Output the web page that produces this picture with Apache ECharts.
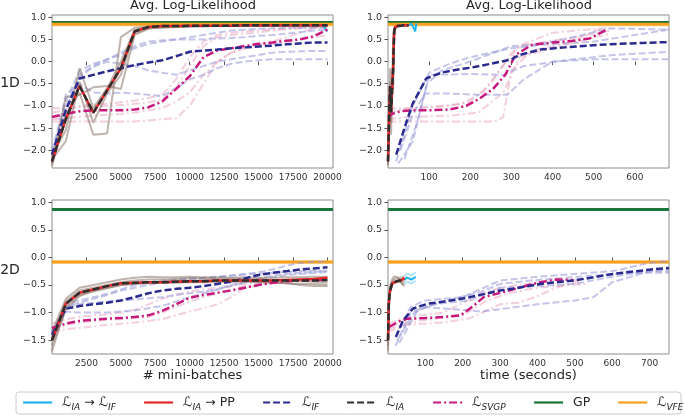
<!DOCTYPE html>
<html>
<head>
<meta charset="utf-8">
<script src="https://cdn.jsdelivr.net/npm/echarts@6/dist/echarts.min.js"></script>
<style>
  html, body { margin: 0; padding: 0; background: #fff; }
  #chart { width: 685px; height: 416px; }
</style>
</head>
<body>
<div id="chart"></div>
<script>
// ---- axes ----
const batches = [0, 1000, 2000, 3000, 4000, 5000, 6000, 7000, 8000, 9000, 10000, 11000, 12000, 13000, 14000, 15000, 16000, 17000, 18000, 19000, 20000];
const batchTicks = [2500, 5000, 7500, 10000, 12500, 15000, 17500, 20000];
const timeTicks1D = [100, 200, 300, 400, 500, 600];
const timeTicks2D = [100, 200, 300, 400, 500, 600, 700];
const yTicks1D = [-2.0, -1.5, -1.0, -0.5, 0.0, 0.5, 1.0];
const yTicks2D = [-1.5, -1.0, -0.5, 0.0, 0.5, 1.0];
const batchSpan = [0, 20400];
const timeSpan1D = [0, 683];
const timeSpan2D = [0, 752];

// ---- reference levels (GP, VFE) ----
const gpLevel = [0.88, 0.87];          // 1D, 2D
const gpBand2D = [0.85, 0.89];
const vfeLevel = [0.84, -0.085];       // 1D, 2D
const vfeBand1D = [0.79, 0.88];
const vfeBand2D = [-0.12, -0.05];

// ---- 1D, mini-batches ----
const iaBatch1D = [-2.25, -1.3, -0.55, -1.15, -0.65, -0.15, 0.68, 0.78, 0.8, 0.8, 0.81, 0.81, 0.81, 0.81, 0.82, 0.82, 0.82, 0.82, 0.82, 0.82, 0.82];
const iaPpBatch1D = [-2.25, -1.3, -0.55, -1.15, -0.65, -0.15, 0.68, 0.78, 0.8, 0.8, 0.81, 0.81, 0.81, 0.81, 0.82, 0.82, 0.82, 0.82, 0.82, 0.82, 0.82];
const iaRunsBatch1D = [
  [-2.1, -1.55, -0.15, -1.05, -0.6, 0.0, 0.72, 0.78, 0.79, 0.8, 0.8, 0.8, 0.81, 0.81, 0.81, 0.81, 0.81, 0.82, 0.82, 0.82, 0.82],
  [-2.35, -1.2, -0.7, -1.65, -1.62, 0.55, 0.76, 0.79, 0.8, 0.8, 0.8, 0.81, 0.81, 0.81, 0.81, 0.81, 0.82, 0.82, 0.82, 0.82, 0.82],
  [-2.3, -0.8, -0.75, -0.58, -0.55, -0.62, 0.6, 0.74, 0.77, 0.78, 0.79, 0.79, 0.8, 0.8, 0.8, 0.8, 0.81, 0.81, 0.81, 0.81, 0.81],
  [-2.2, -1.8, -0.45, -1.38, -0.72, -0.3, 0.64, 0.75, 0.77, 0.78, 0.79, 0.8, 0.8, 0.8, 0.8, 0.81, 0.81, 0.81, 0.81, 0.81, 0.81]
];
const ifBatch1D = [-2.1, -1.1, -0.38, -0.3, -0.22, -0.15, -0.08, -0.02, 0.03, 0.12, 0.22, 0.25, 0.27, 0.3, 0.32, 0.34, 0.36, 0.39, 0.41, 0.43, 0.43];
const ifRunsBatch1D = [
  [-2.0, -0.9, -0.2, -0.05, 0.05, 0.15, 0.3, 0.4, 0.45, 0.5, 0.55, 0.6, 0.65, 0.7, 0.72, 0.74, 0.75, 0.76, 0.76, 0.76, 0.76],
  [-2.2, -0.75, -0.5, -0.7, -0.72, -0.7, -0.72, -0.75, -0.78, -0.6, -0.4, -0.3, -0.15, -0.05, 0.0, 0.03, 0.05, 0.05, 0.05, 0.05, 0.05],
  [-2.1, -1.0, -0.35, -0.12, 0.0, -0.05, -0.1, -0.2, -0.25, -0.3, -0.2, -0.1, 0.0, 0.05, 0.1, 0.15, 0.2, 0.22, 0.23, 0.24, 0.24],
  [-2.3, -1.1, -0.3, -0.1, 0.05, 0.2, 0.35, 0.45, 0.48, 0.5, 0.5, 0.5, 0.52, 0.53, 0.55, 0.58, 0.6, 0.63, 0.66, 0.7, 0.72]
];
const svgpBatch1D = [-1.25, -1.18, -1.12, -1.1, -1.1, -1.1, -1.08, -1.03, -0.9, -0.62, -0.33, 0.1, 0.25, 0.3, 0.35, 0.4, 0.43, 0.47, 0.5, 0.57, 0.72];
const svgpRunsBatch1D = [
  [-1.15, -1.1, -1.0, -0.98, -0.95, -0.92, -0.88, -0.82, -0.75, -0.4, 0.1, 0.45, 0.6, 0.65, 0.68, 0.7, 0.72, 0.73, 0.75, 0.77, 0.78],
  [-1.3, -1.28, -1.25, -1.22, -1.2, -1.18, -1.15, -1.1, -1.05, -0.9, -0.7, -0.3, 0.0, 0.2, 0.3, 0.35, 0.4, 0.45, 0.5, 0.55, 0.6],
  [-1.35, -1.35, -1.35, -1.35, -1.35, -1.35, -1.35, -1.33, -1.3, -1.28, -1.0, -0.5, 0.0, 0.2, 0.3, 0.38, 0.45, 0.55, 0.65, 0.75, 0.8],
  [-1.05, -1.05, -1.02, -1.0, -1.0, -0.98, -0.95, -0.92, -0.85, -0.6, -0.1, 0.35, 0.55, 0.6, 0.63, 0.66, 0.7, 0.74, 0.76, 0.78, 0.8]
];
const iaIfBatchX1D = [19700, 20000];
const iaIfBatch1D = [0.8, 0.68];

// ---- 1D, time ----
const iaTime1D = [0, 2.5, 5, 7.5, 10, 12.5, 15, 17.5, 20, 22.5, 25, 27.5, 30, 32.5, 35, 37.5, 40, 42.5, 45, 47.5, 50];
const iaIfTimeX1D = [50, 57, 62, 66, 69];
const iaIfTime1D = [0.82, 0.85, 0.77, 0.68, 0.86];
const ifTimeX1D = [20, 40, 60, 93, 130, 175, 200, 250, 300, 320, 370, 430, 500, 560, 620, 683];
const ifTime1D = [-2.1, -1.5, -0.95, -0.38, -0.25, -0.17, -0.14, -0.05, 0.05, 0.15, 0.27, 0.32, 0.37, 0.4, 0.42, 0.44];
const ifRunsTimeX1D = [
  [20, 60, 100, 150, 200, 300, 350, 450, 540, 683],
  [30, 60, 90, 150, 220, 290, 330, 400, 500, 683],
  [40, 70, 100, 200, 280, 330, 450, 550, 683],
  [25, 60, 95, 130, 200, 300, 380, 500, 600, 683]
];
const ifRunsTime1D = [
  [-2.25, -1.0, -0.25, -0.05, 0.1, 0.3, 0.35, 0.55, 0.75, 0.72],
  [-2.0, -1.2, -0.72, -0.72, -0.75, -0.75, -0.4, 0.0, 0.05, 0.05],
  [-2.2, -1.4, -0.3, -0.28, -0.3, -0.1, 0.05, 0.15, 0.22],
  [-2.3, -1.8, -0.5, -0.2, 0.0, 0.35, 0.38, 0.45, 0.6, 0.72]
];
const svgpTimeX1D = [0, 10, 30, 60, 100, 150, 190, 220, 255, 285, 310, 350, 400, 450, 490, 530];
const svgpTime1D = [-1.25, -1.18, -1.12, -1.1, -1.1, -1.08, -1.0, -0.85, -0.62, -0.3, 0.15, 0.38, 0.43, 0.47, 0.52, 0.71];
const svgpRunsTimeX1D = [
  [0, 50, 150, 200, 250, 300, 330, 400, 480, 530],
  [0, 50, 150, 220, 280, 300, 320, 400, 500, 540],
  [0, 100, 200, 260, 280, 300, 350, 430, 520],
  [0, 80, 180, 230, 270, 320, 420, 500, 540]
];
const svgpRunsTime1D = [
  [-1.15, -1.05, -1.0, -0.9, -0.5, 0.2, 0.4, 0.65, 0.72, 0.75],
  [-1.3, -1.25, -1.22, -1.15, -0.7, -0.3, 0.1, 0.3, 0.55, 0.62],
  [-1.35, -1.35, -1.35, -1.35, -1.25, -0.2, 0.25, 0.4, 0.75],
  [-1.05, -1.05, -0.95, -0.7, -0.2, 0.35, 0.5, 0.62, 0.7]
];

// ---- 2D, mini-batches ----
const iaBatch2D = [-1.5, -0.84, -0.64, -0.58, -0.52, -0.47, -0.46, -0.45, -0.45, -0.44, -0.43, -0.43, -0.42, -0.42, -0.42, -0.42, -0.42, -0.42, -0.42, -0.42, -0.41];
const iaPpBatch2D = [-1.5, -0.84, -0.64, -0.58, -0.52, -0.47, -0.46, -0.45, -0.45, -0.44, -0.43, -0.43, -0.42, -0.42, -0.42, -0.42, -0.42, -0.41, -0.4, -0.39, -0.37];
const iaRunsBatch2D = [
  [-1.6, -0.95, -0.7, -0.6, -0.55, -0.5, -0.48, -0.47, -0.46, -0.46, -0.45, -0.45, -0.45, -0.44, -0.44, -0.45, -0.46, -0.47, -0.48, -0.48, -0.49],
  [-1.35, -0.75, -0.55, -0.5, -0.45, -0.4, -0.37, -0.35, -0.36, -0.36, -0.35, -0.36, -0.36, -0.37, -0.36, -0.37, -0.37, -0.36, -0.36, -0.35, -0.35],
  [-1.7, -0.9, -0.68, -0.62, -0.56, -0.5, -0.47, -0.45, -0.44, -0.43, -0.43, -0.42, -0.42, -0.43, -0.42, -0.44, -0.45, -0.47, -0.5, -0.52, -0.52],
  [-1.45, -0.8, -0.6, -0.55, -0.5, -0.45, -0.42, -0.4, -0.4, -0.39, -0.38, -0.38, -0.38, -0.38, -0.39, -0.4, -0.41, -0.42, -0.43, -0.44, -0.45]
];
const ifBatch2D = [-1.4, -0.93, -0.88, -0.85, -0.82, -0.78, -0.72, -0.65, -0.6, -0.57, -0.55, -0.52, -0.48, -0.44, -0.38, -0.32, -0.28, -0.25, -0.22, -0.2, -0.18];
const ifRunsBatch2D = [
  [-1.45, -0.9, -0.82, -0.75, -0.68, -0.6, -0.55, -0.5, -0.45, -0.42, -0.4, -0.38, -0.36, -0.33, -0.3, -0.27, -0.22, -0.15, -0.1, -0.08, -0.07],
  [-1.5, -0.98, -1.0, -1.0, -1.0, -0.98, -0.96, -0.92, -0.88, -0.8, -0.72, -0.65, -0.58, -0.5, -0.45, -0.4, -0.36, -0.32, -0.3, -0.28, -0.27],
  [-1.35, -0.9, -0.85, -0.82, -0.8, -0.78, -0.76, -0.74, -0.72, -0.68, -0.65, -0.62, -0.58, -0.52, -0.45, -0.38, -0.33, -0.3, -0.28, -0.26, -0.25],
  [-1.4, -0.85, -0.78, -0.72, -0.66, -0.58, -0.5, -0.45, -0.42, -0.4, -0.38, -0.37, -0.35, -0.33, -0.31, -0.3, -0.28, -0.26, -0.25, -0.24, -0.24]
];
const svgpBatch2D = [-1.28, -1.2, -1.15, -1.13, -1.11, -1.1, -1.08, -1.05, -0.97, -0.85, -0.73, -0.68, -0.64, -0.6, -0.55, -0.5, -0.46, -0.43, -0.42, -0.41, -0.4];
const svgpRunsBatch2D = [
  [-1.35, -1.3, -1.28, -1.25, -1.22, -1.2, -1.18, -1.15, -1.12, -1.05, -0.98, -0.92, -0.85, -0.72, -0.55, -0.5, -0.47, -0.45, -0.43, -0.42, -0.42],
  [-1.2, -1.12, -1.08, -1.05, -1.03, -1.0, -0.95, -0.85, -0.75, -0.68, -0.62, -0.58, -0.55, -0.52, -0.48, -0.45, -0.43, -0.42, -0.41, -0.4, -0.4],
  [-1.3, -1.22, -1.18, -1.15, -1.13, -1.12, -1.1, -1.08, -1.0, -0.9, -0.8, -0.72, -0.65, -0.58, -0.52, -0.48, -0.45, -0.43, -0.42, -0.4, -0.38]
];

// ---- 2D, time ----
const iaTime2D = [0, 2.2, 4.4, 6.6, 8.8, 11, 13.2, 15.4, 17.6, 19.8, 22, 24.2, 26.4, 28.6, 30.8, 33, 35.2, 37.4, 39.6, 41.8, 44];
const iaIfTimeX2D = [44, 50, 56, 62, 68, 74];
const iaIfTime2D = [-0.41, -0.36, -0.38, -0.4, -0.38, -0.35];
const iaIfRunsTime2D = [
  [-0.33, -0.3, -0.3, -0.33, -0.3, -0.27],
  [-0.48, -0.44, -0.45, -0.47, -0.45, -0.42]
];
const ifTimeX2D = [21, 40, 66, 106, 150, 212, 260, 300, 350, 407, 450, 496, 550, 602, 650, 704, 752];
const ifTime2D = [-1.44, -1.15, -0.93, -0.84, -0.8, -0.73, -0.66, -0.6, -0.55, -0.48, -0.45, -0.42, -0.36, -0.3, -0.26, -0.22, -0.19];
const ifRunsTimeX2D = [
  [30, 60, 100, 200, 300, 400, 500, 600, 700, 752],
  [20, 60, 100, 250, 400, 500, 550, 600, 700, 752],
  [25, 70, 120, 220, 300, 400, 500, 600, 700, 752],
  [30, 80, 150, 250, 300, 380, 450, 550, 650, 752]
];
const ifRunsTime2D = [
  [-1.3, -0.9, -0.78, -0.72, -0.42, -0.35, -0.3, -0.25, -0.1, -0.07],
  [-1.6, -1.0, -0.9, -0.98, -0.85, -0.78, -0.72, -0.45, -0.25, -0.25],
  [-1.5, -1.0, -0.85, -0.78, -0.55, -0.52, -0.48, -0.35, -0.25, -0.22],
  [-1.55, -0.95, -0.8, -0.62, -0.48, -0.42, -0.38, -0.33, -0.28, -0.28]
];
const svgpTimeX2D = [3, 30, 52, 100, 150, 194, 230, 256, 290, 318, 360, 407, 451, 495];
const svgpTime2D = [-1.26, -1.16, -1.11, -1.1, -1.08, -1.05, -0.87, -0.72, -0.66, -0.61, -0.53, -0.45, -0.4, -0.41];
const svgpRunsTimeX2D = [
  [0, 50, 150, 220, 300, 350, 400, 450, 500, 520],
  [0, 50, 150, 250, 300, 400, 450, 520],
  [0, 80, 200, 260, 320, 400, 480, 530]
];
const svgpRunsTime2D = [
  [-1.35, -1.22, -1.18, -1.1, -0.85, -0.82, -0.7, -0.55, -0.45, -0.42],
  [-1.2, -1.08, -1.0, -0.65, -0.55, -0.45, -0.42, -0.4],
  [-1.3, -1.15, -1.05, -0.8, -0.65, -0.55, -0.5, -0.48]
];

// ---- styles ----
const FONT = 'DejaVu Sans';
const C = {
  iaif: '#1fb4ee', iapp: '#e8262a', ifc: '#2a2b8f', ia: '#2e2e2e',
  svgp: '#c8187b', gp: '#1b7438', vfe: '#f8a11c',
  iaRun: 'rgba(140,118,108,0.55)', ifRun: 'rgba(150,150,215,0.55)', svgpRun: 'rgba(228,160,188,0.5)'
};
const DASH = [7, 3];
const DASHDOT = [8, 3, 2, 3];

function pairs(xs, ys) { return xs.map((x, i) => [x, ys[i]]); }

function line(p, name, xs, ys, color, width, type, z) {
  return {
    type: 'line', name: name, xAxisIndex: p, yAxisIndex: p,
    data: pairs(xs, ys), symbol: 'none', color: color,
    lineStyle: { color: color, width: width, type: type },
    z: z, silent: true, animation: false
  };
}

const series = [];
const spans = [batchSpan, timeSpan1D, batchSpan, timeSpan2D];

// reference lines for each panel
[0, 1, 2, 3].forEach(p => {
  const d = p < 2 ? 0 : 1;
  const g = line(p, 'gp', spans[p], [gpLevel[d], gpLevel[d]], C.gp, 3, 'solid', 3);
  if (d === 1) {
    g.markArea = { silent: true, itemStyle: { color: 'rgba(27,116,56,0.18)' },
      data: [[{ yAxis: gpBand2D[0] }, { yAxis: gpBand2D[1] }]] };
  }
  series.push(g);
  const band = d === 0 ? vfeBand1D : vfeBand2D;
  const v = line(p, 'vfe', spans[p], [vfeLevel[d], vfeLevel[d]], C.vfe, 3, 'solid', 3);
  v.markArea = { silent: true, itemStyle: { color: 'rgba(248,161,28,0.28)' },
    data: [[{ yAxis: band[0] }, { yAxis: band[1] }]] };
  series.push(v);
});

// panel 0: 1D mini-batches
svgpRunsBatch1D.forEach(r => series.push(line(0, null, batches, r, C.svgpRun, 2, DASHDOT, 4)));
ifRunsBatch1D.forEach(r => series.push(line(0, null, batches, r, C.ifRun, 2, DASH, 4)));
iaRunsBatch1D.forEach(r => series.push(line(0, null, batches, r, C.iaRun, 2, 'solid', 4)));
series.push(line(0, 'iaif', iaIfBatchX1D, iaIfBatch1D, C.iaif, 2, 'solid', 5));
series.push(line(0, 'svgp', batches, svgpBatch1D, C.svgp, 2.5, DASHDOT, 6));
series.push(line(0, 'if', batches, ifBatch1D, C.ifc, 2.5, DASH, 6));
series.push(line(0, 'iapp', batches, iaPpBatch1D, C.iapp, 2.5, 'solid', 7));
series.push(line(0, 'ia', batches, iaBatch1D, C.ia, 2.5, DASH, 8));

// panel 1: 1D time
svgpRunsTime1D.forEach((r, i) => series.push(line(1, null, svgpRunsTimeX1D[i], r, C.svgpRun, 2, DASHDOT, 4)));
ifRunsTime1D.forEach((r, i) => series.push(line(1, null, ifRunsTimeX1D[i], r, C.ifRun, 2, DASH, 4)));
iaRunsBatch1D.forEach(r => series.push(line(1, null, iaTime1D, r, C.iaRun, 2, 'solid', 4)));
series.push(line(1, 'iaif', iaIfTimeX1D, iaIfTime1D, C.iaif, 2, 'solid', 5));
series.push(line(1, 'svgp', svgpTimeX1D, svgpTime1D, C.svgp, 2.5, DASHDOT, 6));
series.push(line(1, 'if', ifTimeX1D, ifTime1D, C.ifc, 2.5, DASH, 6));
series.push(line(1, 'iapp', iaTime1D, iaPpBatch1D, C.iapp, 2.5, 'solid', 7));
series.push(line(1, 'ia', iaTime1D, iaBatch1D, C.ia, 2.5, DASH, 8));

// panel 2: 2D mini-batches
svgpRunsBatch2D.forEach(r => series.push(line(2, null, batches, r, C.svgpRun, 2, DASHDOT, 4)));
ifRunsBatch2D.forEach(r => series.push(line(2, null, batches, r, C.ifRun, 2, DASH, 4)));
iaRunsBatch2D.forEach(r => series.push(line(2, null, batches, r, C.iaRun, 2, 'solid', 4)));
series.push(line(2, 'svgp', batches, svgpBatch2D, C.svgp, 2.5, DASHDOT, 6));
series.push(line(2, 'if', batches, ifBatch2D, C.ifc, 2.5, DASH, 6));
series.push(line(2, 'iapp', batches, iaPpBatch2D, C.iapp, 2.5, 'solid', 7));
series.push(line(2, 'ia', batches, iaBatch2D, C.ia, 2.5, DASH, 8));

// panel 3: 2D time
svgpRunsTime2D.forEach((r, i) => series.push(line(3, null, svgpRunsTimeX2D[i], r, C.svgpRun, 2, DASHDOT, 4)));
ifRunsTime2D.forEach((r, i) => series.push(line(3, null, ifRunsTimeX2D[i], r, C.ifRun, 2, DASH, 4)));
iaRunsBatch2D.forEach(r => series.push(line(3, null, iaTime2D, r, C.iaRun, 2, 'solid', 4)));
iaIfRunsTime2D.forEach(r => series.push(line(3, null, iaIfTimeX2D, r, 'rgba(31,180,238,0.35)', 2, 'solid', 4)));
series.push(line(3, 'iaif', iaIfTimeX2D, iaIfTime2D, C.iaif, 2, 'solid', 5));
series.push(line(3, 'svgp', svgpTimeX2D, svgpTime2D, C.svgp, 2.5, DASHDOT, 6));
series.push(line(3, 'if', ifTimeX2D, ifTime2D, C.ifc, 2.5, DASH, 6));
series.push(line(3, 'iapp', iaTime2D, iaPpBatch2D, C.iapp, 2.5, 'solid', 7));
series.push(line(3, 'ia', iaTime2D, iaBatch2D, C.ia, 2.5, DASH, 8));

// ---- layout ----
const grids = [
  { left: 52, top: 15, width: 281, height: 153 },
  { left: 388, top: 15, width: 281, height: 153 },
  { left: 52, top: 200, width: 281, height: 154 },
  { left: 388, top: 200, width: 281, height: 154 }
].map(g => Object.assign(g, { show: true, borderColor: '#8c8c8c', borderWidth: 1, backgroundColor: '#fff' }));

const xTicks = [batchTicks, timeTicks1D, batchTicks, timeTicks2D];
const xNames = ['', '', '# mini-batches', 'time (seconds)'];
const xAxes = [0, 1, 2, 3].map(p => ({
  type: 'value', gridIndex: p, min: spans[p][0], max: spans[p][1],
  axisLine: { show: false },
  axisTick: { show: true, length: 3.5, customValues: xTicks[p], lineStyle: { color: '#555' } },
  axisLabel: { customValues: xTicks[p], fontSize: 9, color: '#333', fontFamily: FONT, margin: 5,
    formatter: v => String(v) },
  splitLine: { show: false },
  name: xNames[p], nameLocation: 'middle', nameGap: 14,
  nameTextStyle: { fontSize: 13, color: '#262626', fontFamily: FONT }
}));

const yRanges = [[-2.4, 1.05], [-2.4, 1.05], [-1.75, 1.04], [-1.75, 1.04]];
const yAxes = [0, 1, 2, 3].map(p => {
  const ticks = p < 2 ? yTicks1D : yTicks2D;
  return {
    type: 'value', gridIndex: p, min: yRanges[p][0], max: yRanges[p][1],
    axisLine: { show: false },
    axisTick: { show: true, length: 3.5, customValues: ticks, lineStyle: { color: '#555' } },
    axisLabel: { customValues: ticks, fontSize: 9.5, color: '#333', fontFamily: FONT, margin: 6,
      formatter: v => (v < 0 ? '\u2212' : '') + Math.abs(v).toFixed(1) },
    splitLine: { show: false }
  };
});

// ---- legend (one entry per component, inside a shared frame) ----
const base = { fontFamily: FONT, color: '#262626', lineHeight: 20, verticalAlign: 'middle' };
const rich = {
  L: Object.assign({}, base, { fontSize: 13 }),
  Lp: Object.assign({}, base, { fontSize: 13, padding: [0, 0, 0, 5] }),
  s: Object.assign({}, base, { fontSize: 9, fontStyle: 'italic', verticalAlign: 'bottom' }),
  t: Object.assign({}, base, { fontSize: 12.5 }),
  tp: Object.assign({}, base, { fontSize: 12.5, padding: [0, 0, 0, 5] })
};
const legendNames = ['iaif', 'iapp', 'if', 'ia', 'svgp', 'gp', 'vfe'];
const legendLabels = {
  iaif: '{Lp|\u2112}{s|IA}{t| \u2192 }{L|\u2112}{s|IF}',
  iapp: '{Lp|\u2112}{s|IA}{t| \u2192 PP}',
  if: '{Lp|\u2112}{s|IF}',
  ia: '{Lp|\u2112}{s|IA}',
  svgp: '{Lp|\u2112}{s|SVGP}',
  gp: '{tp|GP}',
  vfe: '{Lp|\u2112}{s|VFE}'
};
const legendLeft = [22, 143, 262, 346, 432, 533, 617];
const legends = legendNames.map((n, i) => ({
  data: [n], left: legendLeft[i], top: 396, padding: 0,
  itemWidth: 29, itemHeight: 14, selectedMode: false,
  itemStyle: { opacity: 0, borderWidth: 0 },
  lineStyle: { width: 2.2 },
  formatter: name => legendLabels[name],
  textStyle: { rich: rich }
}));

const chart = echarts.init(document.getElementById('chart'));
chart.setOption({
  animation: false,
  backgroundColor: '#fff',
  grid: grids,
  xAxis: xAxes,
  yAxis: yAxes,
  legend: legends,
  series: series,
  graphic: [
    { type: 'rect', z: 1, shape: { x: 16, y: 392, width: 665, height: 22, r: 3 },
      style: { fill: '#fff', stroke: '#cccccc', lineWidth: 1 } },
    { type: 'text', x: 193, y: 6, style: { text: 'Avg. Log-Likelihood', font: '13px "DejaVu Sans"', fill: '#262626', align: 'center', verticalAlign: 'middle' } },
    { type: 'text', x: 529, y: 6, style: { text: 'Avg. Log-Likelihood', font: '13px "DejaVu Sans"', fill: '#262626', align: 'center', verticalAlign: 'middle' } },
    { type: 'text', x: 10, y: 83, style: { text: '1D', font: '14px "DejaVu Sans"', fill: '#262626', align: 'center', verticalAlign: 'middle' } },
    { type: 'text', x: 10, y: 270, style: { text: '2D', font: '14px "DejaVu Sans"', fill: '#262626', align: 'center', verticalAlign: 'middle' } }
  ]
});
</script>
</body>
</html>
